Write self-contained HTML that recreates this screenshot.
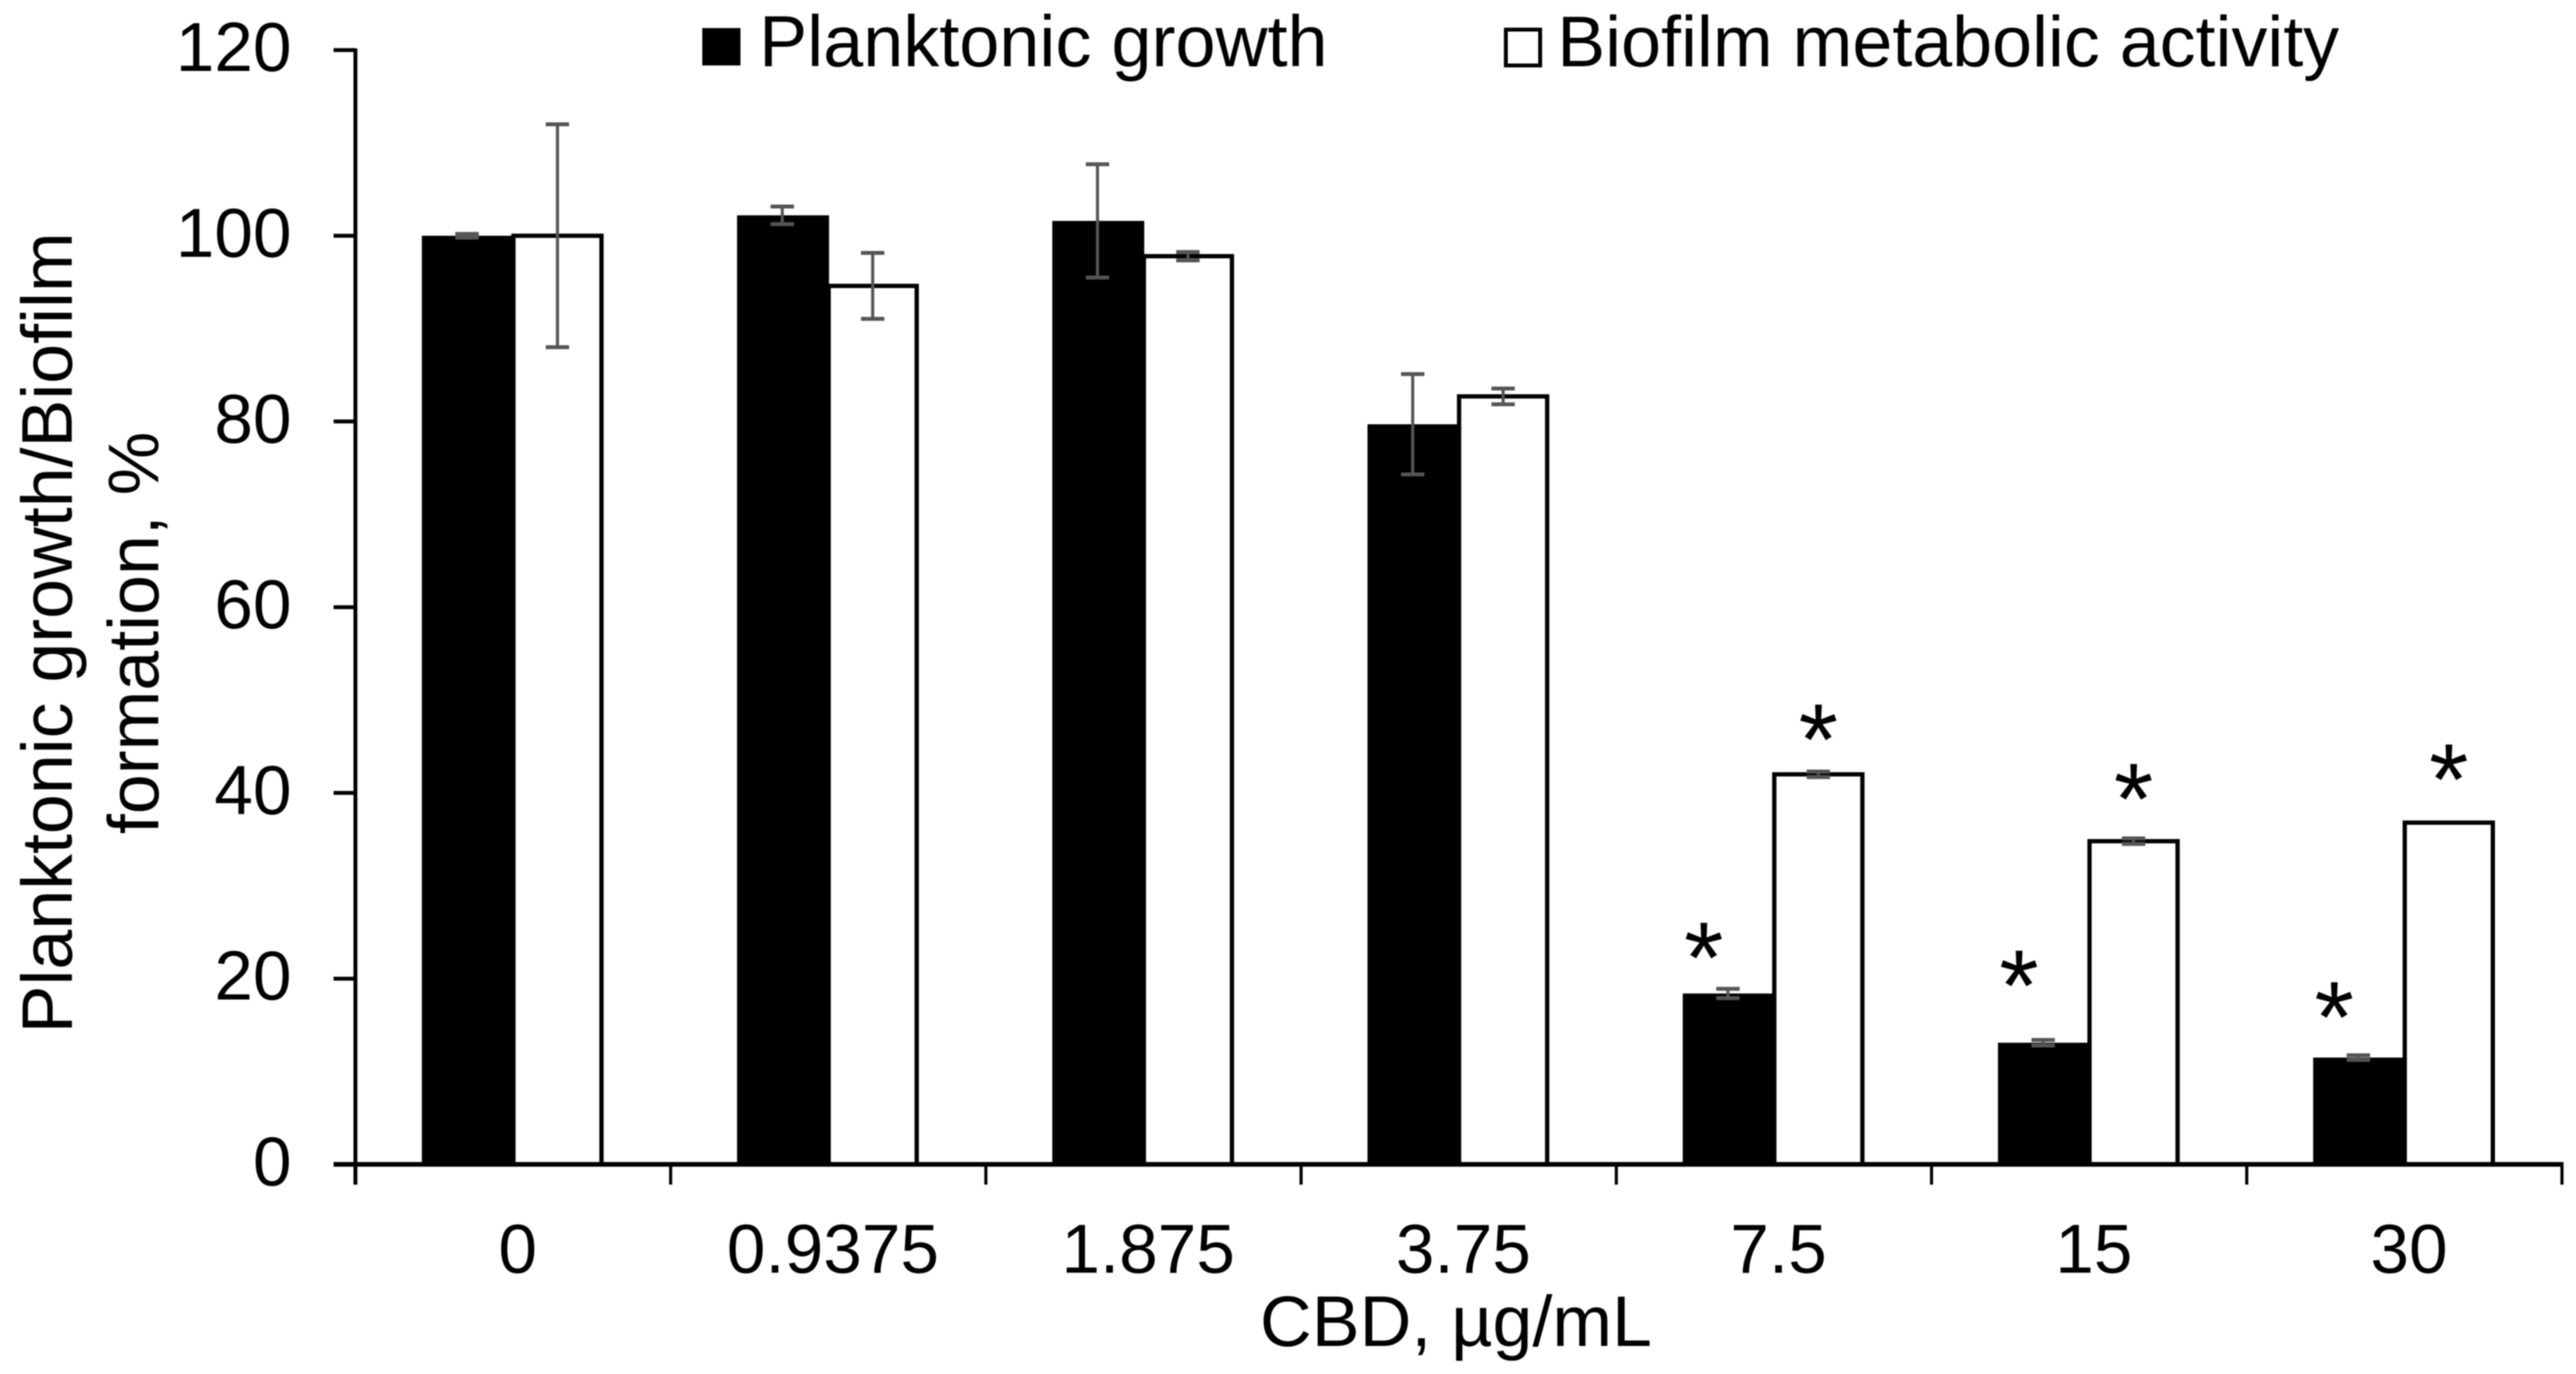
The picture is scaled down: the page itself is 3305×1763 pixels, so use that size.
<!DOCTYPE html>
<html lang="en">
<head>
<meta charset="utf-8">
<title>Planktonic growth and biofilm metabolic activity vs CBD</title>
<style>
html,body{margin:0;padding:0;background:#fff;}
svg{display:block;font-family:"Liberation Sans",Arial,sans-serif;filter:blur(0.7px);}
</style>
</head>
<body>
<svg id="chart" width="3305" height="1763" viewBox="0 0 3305 1763" xmlns="http://www.w3.org/2000/svg">
  <rect x="0" y="0" width="3305" height="1763" fill="#fff"/>
  <g id="plot"></g>
  <g>
    <g>
      <rect x="901" y="36" width="49" height="48" fill="#000"/>
      <text x="974" y="85" font-size="92.4" fill="#000">Planktonic growth</text>
    </g>
    <g>
      <rect x="1932" y="38" width="44" height="46" fill="#fff" stroke="#000" stroke-width="5"/>
      <text x="1998" y="85" font-size="92.1" fill="#000">Biofilm metabolic activity</text>
    </g>
  </g>
  <text x="1868" y="1727" font-size="92" text-anchor="middle" fill="#000">CBD, µg/mL</text>
  <g>
    <text transform="translate(92,812) rotate(-90)" font-size="92" text-anchor="middle" fill="#000">Planktonic growth/Biofilm</text>
    <text transform="translate(203,812) rotate(-90)" font-size="92" text-anchor="middle" fill="#000">formation, %</text>
  </g>
</svg>
<script>
const categories = ["0", "0.9375", "1.875", "3.75", "7.5", "15", "30"];
const planktonicValues = [100, 102.2, 101.6, 79.7, 18.4, 13.1, 11.5];
const biofilmValues = [100, 94.6, 97.8, 82.7, 42, 34.8, 36.8];
const planktonicErrors = [0.2, 0.95, 6.1, 5.4, 0.5, 0.3, 0.25];
const biofilmErrors = [12, 3.55, 0.45, 0.85, 0.3, 0.3, 0];
const yTicks = [0, 20, 40, 60, 80, 100, 120];
const planktonicStarGap = [null, null, null, null, 5.3, 7.6, 5.8];
const biofilmStarGap = [null, null, null, null, 5.2, 6, 6.1];

const NS = "http://www.w3.org/2000/svg";
const plot = document.getElementById("plot");

const AX = { left: 456, right: 3287, bottom: 1494, pxPerUnit: 11.915 };
const catWidth = (AX.right - AX.left) / categories.length;
function yPos(v) { return AX.bottom - v * AX.pxPerUnit; }
function catCenter(i) { return AX.left + catWidth * (i + 0.5); }
function catEdge(i) { return AX.left + catWidth * i; }

function make(tag, attrs, text) {
  const el = document.createElementNS(NS, tag);
  for (const k in attrs) el.setAttribute(k, attrs[k]);
  if (text !== undefined) el.textContent = text;
  return el;
}

function drawErrorBar(cx, value, err) {
  if (!err) return;
  const g = make("g", { stroke: "#555", fill: "none" });
  
  
  g.appendChild(make("line", { x1: cx, x2: cx, y1: yPos(value + err), y2: yPos(value - err), "stroke-width": 4 }));
  g.appendChild(make("line", { x1: cx - 15, x2: cx + 15, y1: yPos(value + err), y2: yPos(value + err), "stroke-width": 5 }));
  g.appendChild(make("line", { x1: cx - 15, x2: cx + 15, y1: yPos(value - err), y2: yPos(value - err), "stroke-width": 5 }));
  plot.appendChild(g);
}

function drawStar(cx, value, gap) {
  if (gap === null) return;
  const star = make("text", { x: cx, y: yPos(value + gap) + 62, "font-size": 130, "text-anchor": "middle", fill: "#000" }, "*");
  
  
  plot.appendChild(star);
}

categories.forEach(function (label, i) {
  const c = catCenter(i);
  const top1 = yPos(planktonicValues[i]);
  const top2 = yPos(biofilmValues[i]);

  const bar1 = make("rect", { x: c - 117, y: top1, width: 118, height: AX.bottom - top1, fill: "#000" });
  
  
  plot.appendChild(bar1);

  const bar2 = make("rect", { x: c + 0.5, y: top2, width: 113, height: AX.bottom - top2, fill: "#fff", stroke: "#000", "stroke-width": 5.5 });
  
  
  plot.appendChild(bar2);

  drawErrorBar(c - 59, planktonicValues[i], planktonicErrors[i]);
  drawErrorBar(c + 57, biofilmValues[i], biofilmErrors[i]);
  drawStar(c - 90, planktonicValues[i], planktonicStarGap[i]);
  drawStar(c + 57, biofilmValues[i], biofilmStarGap[i]);

  const tl = make("text", { x: c + 6, y: 1633, "font-size": 89, "text-anchor": "middle", fill: "#000" }, label);
  
  
  plot.appendChild(tl);
});

const yAxisLine = make("line", { x1: AX.left, x2: AX.left, y1: yPos(120) - 2, y2: AX.bottom + 26, stroke: "#000", "stroke-width": 5 });


plot.appendChild(yAxisLine);

const xAxisLine = make("line", { x1: 428, x2: AX.right + 2, y1: AX.bottom, y2: AX.bottom, stroke: "#000", "stroke-width": 6 });


plot.appendChild(xAxisLine);

yTicks.forEach(function (v) {
  const tick = make("line", { x1: 428, x2: AX.left, y1: yPos(v), y2: yPos(v), stroke: "#000", "stroke-width": 5 });
  
  
  plot.appendChild(tick);
  const lab = make("text", { x: 374, y: yPos(v) + 27, "font-size": 89, "text-anchor": "end", fill: "#000" }, String(v));
  
  
  plot.appendChild(lab);
});

for (let i = 1; i <= categories.length; i++) {
  const tick = make("line", { x1: catEdge(i), x2: catEdge(i), y1: AX.bottom, y2: AX.bottom + 26, stroke: "#000", "stroke-width": 4 });
  
  
  plot.appendChild(tick);
}
</script>
</body>
</html>
